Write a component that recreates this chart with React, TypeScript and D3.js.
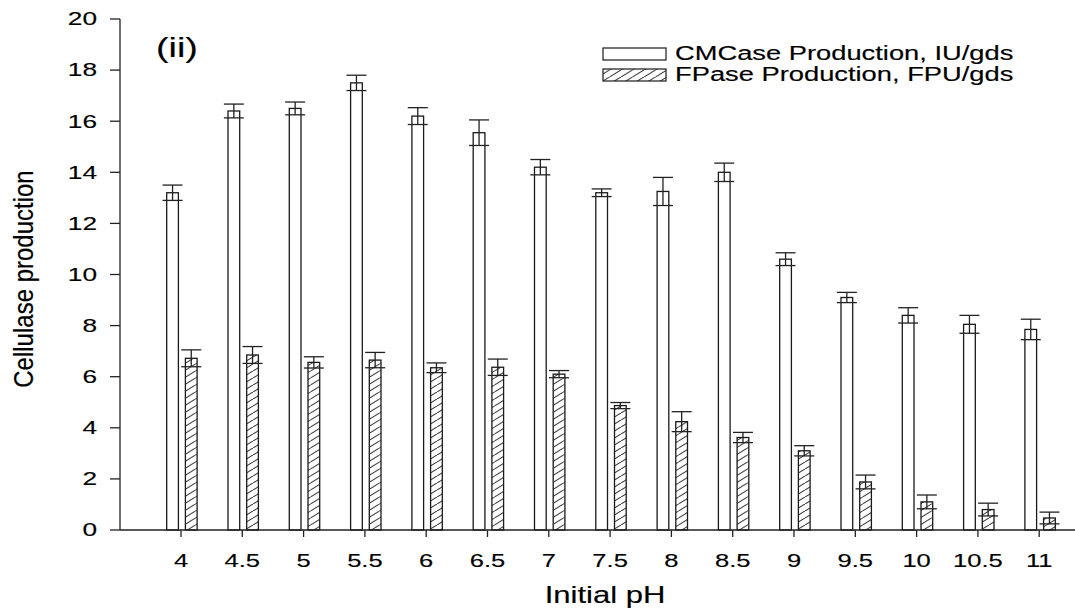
import { useEffect, useRef } from "react"
import * as d3 from "d3"

const phLabels = ["4", "4.5", "5", "5.5", "6", "6.5", "7", "7.5", "8", "8.5", "9", "9.5", "10", "10.5", "11"]
const cmcase = [13.2, 16.4, 16.5, 17.5, 16.2, 15.55, 14.2, 13.2, 13.25, 14.0, 10.6, 9.1, 8.4, 8.05, 7.85]
const cmcaseErr = [0.3, 0.27, 0.25, 0.3, 0.33, 0.5, 0.3, 0.15, 0.55, 0.36, 0.25, 0.2, 0.3, 0.35, 0.4]
const fpase = [6.72, 6.85, 6.56, 6.65, 6.35, 6.37, 6.1, 4.87, 4.24, 3.62, 3.1, 1.88, 1.1, 0.8, 0.47]
const fpaseErr = [0.33, 0.33, 0.22, 0.3, 0.19, 0.32, 0.14, 0.12, 0.39, 0.2, 0.2, 0.27, 0.27, 0.25, 0.23]
const yTicks = [0, 2, 4, 6, 8, 10, 12, 14, 16, 18, 20]
const seriesNames = ["CMCase Production, IU/gds", "FPase Production, FPU/gds"]

const FONT = "'Liberation Sans', Arial, Helvetica, sans-serif"
const SX = 1.42 // the original picture is stretched sideways

export default function App() {
  const svgRef = useRef<SVGSVGElement>(null)

  useEffect(() => {
    if (!svgRef.current) return
    const svg = d3.select(svgRef.current)
    svg.selectAll("*").remove()

    const W = 1075
    const axisX = 120
    const axisY = 530
    const step = 61.3

    const x = d3
      .scaleBand()
      .domain(phLabels)
      .range([181 - step / 2, 181 - step / 2 + step * phLabels.length])
      .padding(0)

    const sub = d3.scaleBand().domain(["cm", "fp"]).range([-14.3, 16.1]).paddingInner(0.374).paddingOuter(0)

    const y = d3.scaleLinear().domain([0, 20]).range([axisY, 19])

    // hatch pattern
    const defs = svg.append("defs")
    const pw = 11.5
    const ph = 7
    defs
      .append("pattern")
      .attr("id", "hatch")
      .attr("patternUnits", "userSpaceOnUse")
      .attr("width", pw)
      .attr("height", ph)
      .append("path")
      .attr("d", `M0,${ph} L${pw},0 M${-pw},${ph} L0,0 M${pw},${2 * ph} L${2 * pw},${ph}`)
      .attr("stroke", "#222")
      .attr("stroke-width", 1)

    const g = svg.append("g")

    const cx = (i: number) => (x(phLabels[i]) || 0) + x.bandwidth() / 2
    const bw = sub.bandwidth()

    const drawSeries = (vals: number[], errs: number[], key: string, fill: string) => {
      const off = (sub(key) || 0) + bw / 2
      g.selectAll(`.bar-${key}`)
        .data(vals)
        .enter()
        .append("rect")
        .attr("x", (_, i) => cx(i) + off - bw / 2)
        .attr("y", (d) => y(d))
        .attr("width", bw)
        .attr("height", (d) => axisY - y(d))
        .attr("fill", fill)
        .attr("stroke", "#1a1a1a")
        .attr("stroke-width", 1.3)

      const eb = g
        .selectAll(`.err-${key}`)
        .data(vals)
        .enter()
        .append("g")
        .attr("stroke", "#222")
        .attr("stroke-width", 1.3)
      eb.append("line")
        .attr("x1", (_, i) => cx(i) + off)
        .attr("x2", (_, i) => cx(i) + off)
        .attr("y1", (d, i) => y(d + errs[i]))
        .attr("y2", (d, i) => y(d - errs[i]))
      eb.append("line")
        .attr("x1", (_, i) => cx(i) + off - 10)
        .attr("x2", (_, i) => cx(i) + off + 10)
        .attr("y1", (d, i) => y(d + errs[i]))
        .attr("y2", (d, i) => y(d + errs[i]))
      eb.append("line")
        .attr("x1", (_, i) => cx(i) + off - 10)
        .attr("x2", (_, i) => cx(i) + off + 10)
        .attr("y1", (d, i) => y(d - errs[i]))
        .attr("y2", (d, i) => y(d - errs[i]))
    }

    drawSeries(cmcase, cmcaseErr, "cm", "white")
    drawSeries(fpase, fpaseErr, "fp", "url(#hatch)")

    // axes
    const axes = svg.append("g").attr("stroke", "#222").attr("stroke-width", 1.3)
    axes.append("line").attr("x1", axisX).attr("x2", axisX).attr("y1", y(20)).attr("y2", axisY)
    axes.append("line").attr("x1", axisX).attr("x2", W).attr("y1", axisY).attr("y2", axisY)
    axes
      .selectAll(".yt")
      .data(yTicks)
      .enter()
      .append("line")
      .attr("x1", axisX - 10)
      .attr("x2", axisX)
      .attr("y1", (d) => y(d))
      .attr("y2", (d) => y(d))
    axes
      .selectAll(".xt")
      .data(phLabels)
      .enter()
      .append("line")
      .attr("x1", (_, i) => cx(i))
      .attr("x2", (_, i) => cx(i))
      .attr("y1", axisY)
      .attr("y2", axisY + 7)

    const txt = (
      sel: d3.Selection<SVGGElement, unknown, null, undefined>,
      s: string,
      tx: number,
      ty: number,
      size: number,
      anchor: string,
      sx = SX,
      weight = "normal",
    ) =>
      sel
        .append("text")
        .attr("transform", `translate(${tx},${ty}) scale(${sx},1)`)
        .attr("text-anchor", anchor)
        .attr("font-family", FONT)
        .attr("font-size", size)
        .attr("font-weight", weight)
        .attr("fill", "#000")
        .attr("stroke", "#000")
        .attr("stroke-width", 0.15)
        .text(s)

    const labels = svg.append("g")
    yTicks.forEach((t) => txt(labels, String(t), 97, y(t) + 6.3, 17.5, "end", 1.5))
    phLabels.forEach((p, i) => txt(labels, p, cx(i), 567, 18, "middle", 1.42))

    txt(labels, "Initial pH", 605, 603, 23, "middle", 1.35)
    labels
      .append("text")
      .attr("transform", `translate(33,279) scale(1.15,1) rotate(-90)`)
      .attr("text-anchor", "middle")
      .attr("font-family", FONT)
      .attr("font-size", 24)
      .attr("fill", "#000")
      .attr("stroke", "#000")
      .attr("stroke-width", 0.15)
      .text("Cellulase production")

    txt(labels, "(ii)", 156, 57, 27, "start", 1.4, "normal")

    // legend
    const leg = svg.append("g")
    const fills = ["white", "url(#hatch)"]
    const rows = [48, 69]
    seriesNames.forEach((n, i) => {
      leg
        .append("rect")
        .attr("x", 603)
        .attr("y", rows[i])
        .attr("width", 63)
        .attr("height", 12)
        .attr("fill", fills[i])
        .attr("stroke", "#1a1a1a")
        .attr("stroke-width", 1.2)
      txt(leg, n, 675, rows[i] + 11.5, 19.5, "start", 1.4)
    })
  }, [])

  return (
    <>
      <style>{`body{margin:0}`}</style>
      <svg ref={svgRef} width={1075} height={610} style={{ display: "block", background: "white" }} />
    </>
  )
}
